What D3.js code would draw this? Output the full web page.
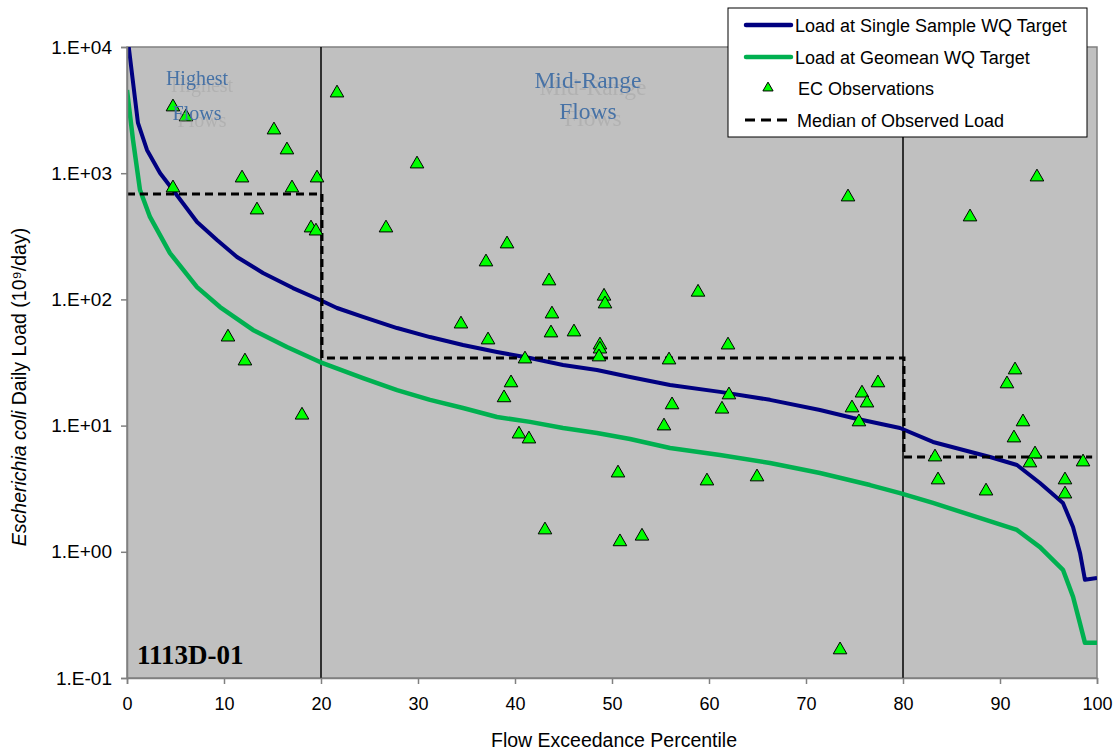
<!DOCTYPE html>
<html><head><meta charset="utf-8">
<script src="https://cdn.jsdelivr.net/npm/d3@7"></script>
<style>body{margin:0;background:#fff}</style>
</head><body><svg id="c" width="1115" height="752" xmlns="http://www.w3.org/2000/svg"></svg>
<script>
// ---- data ----
const ssPct  = [0, 1.13, 2.06, 3.40, 4.74, 7.22, 9.28, 11.34, 14.02, 17.11, 19.90, 21.65, 24.33, 27.84, 31.24, 34.64, 38.14, 41.55, 44.95, 48.45, 51.86, 55.98, 61.13, 66.29, 71.44, 74.85, 79.69, 83.09, 88.97, 91.75, 94.12, 96.49, 97.53, 98.25, 98.76, 100];
const ssLoad = [13000, 2500, 1528, 1004, 736, 411, 296, 217, 162, 123, 98.9, 85.5, 72.6, 59.3, 50.3, 43.5, 38.3, 34.3, 30.2, 27.6, 24.3, 21.0, 18.5, 16.0, 13.3, 11.5, 9.57, 7.42, 5.64, 4.87, 3.51, 2.44, 1.57, 0.98, 0.60, 0.62];
const gmPct  = [0, 0.62, 1.34, 2.37, 4.43, 7.22, 9.59, 12.99, 16.49, 19.90, 24.33, 27.84, 31.24, 34.64, 38.14, 41.55, 44.95, 48.45, 51.86, 55.98, 61.13, 66.29, 71.44, 76.60, 79.69, 83.09, 91.75, 94.12, 96.49, 97.53, 98.25, 98.76, 100];
const gmLoad = [4560, 1832, 736, 450, 233, 125, 87, 57.3, 42.0, 31.9, 23.8, 19.1, 16.0, 13.8, 11.7, 10.7, 9.57, 8.73, 7.83, 6.65, 5.85, 5.06, 4.21, 3.38, 2.92, 2.44, 1.49, 1.09, 0.72, 0.44, 0.27, 0.19, 0.19];
const obsPct  = [4.74, 6.08, 15.15, 16.49, 11.86, 19.59, 4.74, 17.01, 13.40, 18.97, 19.48, 10.41, 12.16, 18.04, 21.65, 26.70, 29.90, 34.43, 37.22, 37.01, 39.18, 41.03, 39.59, 38.87, 40.41, 41.44, 43.09, 43.51, 43.81, 43.71, 46.08, 49.18, 49.28, 48.76, 48.76, 48.66, 50.62, 50.82, 53.09, 55.36, 55.88, 56.19, 58.87, 59.79, 61.34, 61.96, 62.06, 64.95, 73.51, 74.33, 74.74, 75.46, 75.77, 76.29, 77.42, 83.30, 83.61, 86.91, 88.56, 90.72, 91.55, 91.44, 92.37, 93.09, 93.61, 93.81, 96.70, 96.70, 98.56];
const obsLoad = [3350, 2790, 2200, 1528, 916, 916, 764, 764, 511, 368, 348, 50.3, 32.5, 12.1, 4320, 368, 1183, 63.8, 47.7, 198, 275, 33.7, 21.8, 16.6, 8.57, 7.83, 1.49, 140, 76.6, 54.2, 55.2, 106, 92.0, 43.5, 40.4, 35.0, 4.21, 1.20, 1.33, 9.93, 33.1, 14.6, 114, 3.64, 13.5, 43.5, 17.5, 3.92, 0.167, 648, 13.8, 10.7, 18.1, 15.1, 21.8, 5.64, 3.71, 450, 3.03, 21.4, 27.6, 7.98, 10.7, 5.06, 5.96, 933, 3.71, 2.87, 5.15];
const medianBreaks = [0, 20.1, 80.1, 99.5];
const medianLoad   = [684, 34.3, 5.64];
const zoneBounds = [20, 80];
const yTicks = [0.1, 1, 10, 100, 1000, 10000];
const yTickLabels = ["1.E-01", "1.E+00", "1.E+01", "1.E+02", "1.E+03", "1.E+04"];
const xTicks = [0, 10, 20, 30, 40, 50, 60, 70, 80, 90, 100];
const legendItems = ["Load at Single Sample WQ Target", "Load at Geomean WQ Target", "EC Observations", "Median of Observed Load"];

// ---- drawing ----
const svg = d3.select("#c");
const L = 127, R = 1097, T = 47, B = 678;
const x = d3.scaleLinear().domain([0, 100]).range([L, R]);
const y = d3.scaleLog().domain([0.1, 10000]).range([B, T]);
const NAVY = "#000080", GREEN = "#00B050";
const font = "Liberation Sans, Arial, sans-serif";
const serif = "Liberation Serif, Times New Roman, serif";

const defs = svg.append("defs");
defs.append("clipPath").attr("id", "clip")
  .append("rect").attr("x", L).attr("y", T).attr("width", R - L).attr("height", B - T);
defs.append("filter").attr("id", "shadow").attr("x", "-20%").attr("y", "-20%").attr("width", "140%").attr("height", "160%")
  .append("feDropShadow").attr("dx", 5).attr("dy", 7).attr("stdDeviation", 0.6)
  .attr("flood-color", "#9a9a9a").attr("flood-opacity", 0.4);

svg.append("rect").attr("x", L).attr("y", T).attr("width", R - L).attr("height", B - T)
  .attr("fill", "#C0C0C0").attr("stroke", "#808080").attr("stroke-width", 1.5);

const plot = svg.append("g").attr("clip-path", "url(#clip)");

// zone lines
plot.selectAll("line.zone").data(zoneBounds).join("line")
  .attr("x1", d => x(d)).attr("x2", d => x(d)).attr("y1", T).attr("y2", B)
  .attr("stroke", "#000").attr("stroke-width", 1.5);

// zone labels
function zoneLabel(cx, lines, baselines, size) {
  const t = svg.append("text").attr("text-anchor", "middle").attr("font-family", serif)
    .attr("font-size", size).attr("fill", "#4672A6").attr("filter", "url(#shadow)");
  lines.forEach((s, i) => t.append("tspan").attr("x", cx).attr("y", baselines[i]).text(s));
}
zoneLabel(197, ["Highest", "Flows"], [85, 120], 20);
zoneLabel(588, ["Mid-Range", "Flows"], [88, 119], 23.5);

// curves
const line = d3.line().x(d => x(d[0])).y(d => y(d[1]));
plot.append("path").datum(gmPct.map((p, i) => [p, gmLoad[i]]))
  .attr("d", line).attr("fill", "none").attr("stroke", GREEN).attr("stroke-width", 4.5).attr("stroke-linejoin", "round");
plot.append("path").datum(ssPct.map((p, i) => [p, ssLoad[i]]))
  .attr("d", line).attr("fill", "none").attr("stroke", NAVY).attr("stroke-width", 4).attr("stroke-linejoin", "round");

// median step
const medPts = [];
medianLoad.forEach((v, i) => { medPts.push([medianBreaks[i], v]); medPts.push([medianBreaks[i + 1], v]); });
plot.append("path").datum(medPts).attr("d", line).attr("fill", "none")
  .attr("stroke", "#000").attr("stroke-width", 3).attr("stroke-dasharray", "8,5");

// observations
const tri = d3.symbol().type(d3.symbolTriangle).size(80);
plot.selectAll("path.obs").data(obsPct.map((p, i) => [p, obsLoad[i]])).join("path")
  .attr("class", "obs").attr("d", tri)
  .attr("transform", d => `translate(${x(d[0])},${y(d[1])})`)
  .attr("fill", "#00FF00").attr("stroke", "#000").attr("stroke-width", 1);

// station label
svg.append("text").attr("x", 137).attr("y", 664)
  .attr("font-family", serif).attr("font-weight", "bold")
  .attr("font-size", 27).attr("fill", "#000").text("1113D-01");

// axes
const yAxis = svg.append("g").attr("transform", `translate(${L},0)`)
  .call(d3.axisLeft(y).tickValues(yTicks).tickFormat((d, i) => yTickLabels[i]).tickSize(6).tickPadding(9));
const xAxis = svg.append("g").attr("transform", `translate(0,${B})`)
  .call(d3.axisBottom(x).tickValues(xTicks).tickFormat(d3.format("d")).tickSize(6).tickPadding(13));
[yAxis, xAxis].forEach(a => {
  a.select(".domain").attr("stroke", "#808080").attr("stroke-width", 1.5);
  a.selectAll(".tick line").attr("stroke", "#808080").attr("stroke-width", 1.5);
  a.selectAll(".tick text").attr("font-family", font).attr("font-size", 18).attr("fill", "#000");
});
yAxis.selectAll(".tick text").attr("font-size", 19);

// axis titles
const yt = svg.append("text").attr("transform", "translate(26,387) rotate(-90)")
  .attr("text-anchor", "middle").attr("font-family", font).attr("font-size", 19.5).attr("fill", "#000");
yt.append("tspan").attr("font-style", "italic").text("Escherichia coli");
yt.append("tspan").text(" Daily Load (10⁹/day)");
svg.append("text").attr("x", 614).attr("y", 747).attr("text-anchor", "middle")
  .attr("font-family", font).attr("font-size", 19.5).attr("fill", "#000").text("Flow Exceedance Percentile");

// legend
const lg = svg.append("g");
lg.append("rect").attr("x", 728).attr("y", 8).attr("width", 359).attr("height", 129)
  .attr("fill", "#fff").attr("stroke", "#000").attr("stroke-width", 1);
const rowY = [25, 57, 88, 120];
lg.append("line").attr("x1", 746).attr("x2", 791).attr("y1", rowY[0]).attr("y2", rowY[0])
  .attr("stroke", NAVY).attr("stroke-width", 4.5).attr("stroke-linecap", "round");
lg.append("line").attr("x1", 746).attr("x2", 791).attr("y1", rowY[1]).attr("y2", rowY[1])
  .attr("stroke", GREEN).attr("stroke-width", 4.5).attr("stroke-linecap", "round");
lg.append("path").attr("d", d3.symbol().type(d3.symbolTriangle).size(45)())
  .attr("transform", `translate(768,${rowY[2]})`).attr("fill", "#00FF00").attr("stroke", "#000").attr("stroke-width", 1);
lg.append("line").attr("x1", 745).attr("x2", 791).attr("y1", rowY[3]).attr("y2", rowY[3])
  .attr("stroke", "#000").attr("stroke-width", 3).attr("stroke-dasharray", "10,6");
const textX = [795, 795, 798, 797];
legendItems.forEach((t, i) => {
  lg.append("text").attr("x", textX[i]).attr("y", rowY[i] + 6.5)
    .attr("font-family", font).attr("font-size", 18).attr("fill", "#000").text(t);
});
</script></body></html>
